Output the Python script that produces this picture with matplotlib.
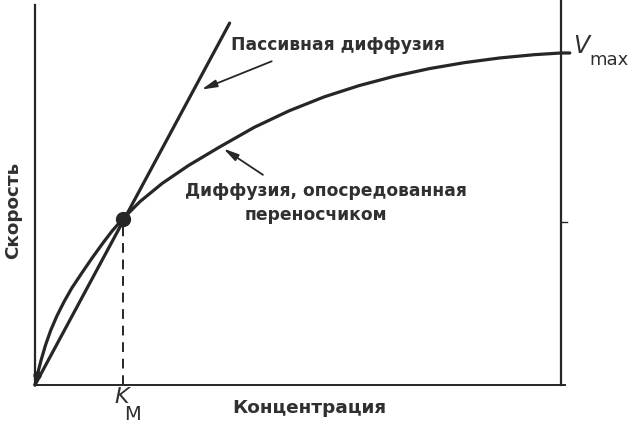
import matplotlib
matplotlib.use("Agg")
import matplotlib.pyplot as plt

# Concentration in units of K_M, rate in units of V_max
conc = [0, 0.03, 0.07, 0.12, 0.18, 0.25, 0.33, 0.42, 0.536, 0.65, 0.776, 0.88, 1.0,
        1.2, 1.45, 1.75, 2.1, 2.5, 2.9, 3.3, 3.7, 4.1, 4.5, 4.9, 5.3, 5.7,
        6.0, 6.1]
rate_carrier = [0, 0.034, 0.075, 0.12, 0.165, 0.208, 0.25, 0.292, 0.338, 0.382,
                0.428, 0.464, 0.5,
                0.553, 0.607, 0.661, 0.716, 0.776, 0.826, 0.868, 0.902, 0.930,
                0.953, 0.971, 0.985, 0.995, 1.0, 1.0]

passive_conc = [0, 2.22]
passive_rate = [0, 1.09]

km = 1.0
half_vmax = 0.5
conc_max = 6.0

ink = "#262626"
txt = "#303030"
plt.rcParams['font.family'] = ['DejaVu Sans']

fig = plt.figure(figsize=(6.43, 4.25), dpi=100)
ax = fig.add_axes([0, 0, 1, 1])
ax.set_xlim(-0.399, 6.935)
ax.set_ylim(-0.1205, 1.1596)
ax.axis("off")

# axes frame drawn by hand: left axis, bottom axis, right boundary
ax.plot([0, 0], [0, 1.145], color=ink, lw=1.6)
ax.plot([0, conc_max + 0.05], [0, 0], color=ink, lw=1.4)
ax.plot([conc_max, conc_max], [0, 1.16], color=ink, lw=1.6)
ax.plot([conc_max, conc_max + 0.07], [half_vmax - 0.01, half_vmax - 0.01], color=ink, lw=1.0)

# curves
ax.plot(passive_conc, passive_rate, color=ink, lw=2.3, solid_capstyle="round")
ax.plot(conc, rate_carrier, color=ink, lw=2.3, solid_joinstyle="round",
        solid_capstyle="round")

# K_M marker
ax.plot([km, km], [0, half_vmax], color=ink, lw=1.4, ls=(0, (5, 3.5)))
ax.plot([km], [half_vmax], "o", color=ink, ms=10)
ax.plot([0.02], [0.03], "o", color=ink, ms=5)

# arrows
arrow = dict(arrowstyle="-|>,head_length=0.9,head_width=0.22", color=ink, lw=1.3,
             shrinkA=0, shrinkB=0)
ax.annotate("", xy=(1.9, 0.89), xytext=(2.7, 0.975), arrowprops=arrow)
ax.annotate("", xy=(2.15, 0.712), xytext=(2.6, 0.633), arrowprops=arrow)

W, H = 643, 425
def fx(px):
    return px / W
def fy(py):
    return 1 - py / H

fs = 12.3
fig.text(fx(231), fy(45), "Пассивная диффузия", fontsize=fs, fontweight="bold",
         color=txt, ha="left", va="center")
fig.text(fx(326), fy(191), "Диффузия, опосредованная", fontsize=fs, fontweight="bold",
         color=txt, ha="center", va="center")
fig.text(fx(316), fy(215), "переносчиком", fontsize=fs, fontweight="bold",
         color=txt, ha="center", va="center")
fig.text(fx(309), fy(408), "Концентрация", fontsize=13.3, fontweight="bold",
         color=txt, ha="center", va="center")
fig.text(fx(13), fy(210), "Скорость", fontsize=13.2, fontweight="bold",
         color=txt, ha="center", va="center", rotation=90)

fig.text(fx(122), fy(397), "K", fontsize=16, style="italic", color=txt,
         ha="center", va="center")
fig.text(fx(133), fy(414), "M", fontsize=14, color=txt, ha="center", va="center")
fig.text(fx(581), fy(46), "V", fontsize=17, style="italic", color=txt,
         ha="center", va="center")
fig.text(fx(609), fy(60), "max", fontsize=13, color=txt, ha="center", va="center")

fig.savefig("out.png", dpi=100, facecolor="white")
